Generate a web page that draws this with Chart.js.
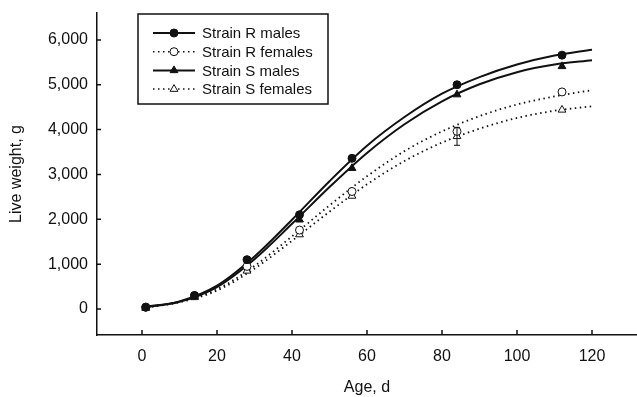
<!DOCTYPE html>
<html>
<head>
<meta charset="utf-8">
<script src="https://cdn.jsdelivr.net/npm/chart.js@4.4.1/dist/chart.umd.min.js"></script>
<style>
  html, body { margin: 0; padding: 0; background: #fff; }
  #wrap { width: 637px; height: 397px; }
</style>
</head>
<body>
<div id="wrap"><canvas id="growthChart"></canvas></div>
<script>
/* ---- DATA ---- */
const AGES = [1, 14, 28, 42, 56, 84, 112];
const R_MALES   = [40, 300, 1100, 2100, 3360, 5000, 5660];
const R_FEMALES = [40, 300, 950, 1760, 2620, 3960, 4840];
const S_MALES   = [30, 280, 990, 1990, 3140, 4780, 5410];
const S_FEMALES = [20, 260, 850, 1660, 2520, 3850, 4440];
const S_FEMALES_SE = [0, 0, 0, 0, 0, 200, 0];

const FIT_AGES = [0, 10, 20, 30, 40, 50, 60, 70, 80, 90, 100, 110, 120];
const R_MALES_FIT   = [40, 170, 520, 1170, 1990, 2850, 3640, 4280, 4800, 5170, 5450, 5650, 5780];
const S_MALES_FIT   = [30, 160, 490, 1110, 1900, 2720, 3480, 4120, 4630, 5010, 5280, 5450, 5545];
const R_FEMALES_FIT = [30, 160, 440, 960, 1620, 2310, 2960, 3520, 3960, 4300, 4560, 4740, 4880];
const S_FEMALES_FIT = [20, 150, 410, 900, 1520, 2170, 2780, 3300, 3710, 4020, 4260, 4420, 4520];

const X_TICKS = [0, 20, 40, 60, 80, 100, 120];
const Y_TICKS = [0, 1000, 2000, 3000, 4000, 5000, 6000];

const INK = '#111';
const FONT = "'Liberation Sans', Arial, sans-serif";

/* ---- HELPERS ---- */
const pts = (xs, ys) => xs.map((x, i) => ({ x: x, y: ys[i] }));

const SERIES = [
  { label: 'Strain R males',   pts: R_MALES,   fit: R_MALES_FIT,   style: 'circle',   fill: INK,    dash: [] },
  { label: 'Strain R females', pts: R_FEMALES, fit: R_FEMALES_FIT, style: 'circle',   fill: '#fff', dash: [1.5, 3.5] },
  { label: 'Strain S males',   pts: S_MALES,   fit: S_MALES_FIT,   style: 'triangle', fill: INK,    dash: [] },
  { label: 'Strain S females', pts: S_FEMALES, fit: S_FEMALES_FIT, style: 'triangle', fill: '#fff', dash: [1.5, 3.5] },
];

const datasets = [];
SERIES.forEach(s => {
  datasets.push({
    label: s.label + ' fit',
    data: pts(FIT_AGES, s.fit),
    borderColor: INK,
    borderWidth: s.dash.length ? 1.8 : 2,
    borderDash: s.dash,
    pointRadius: 0,
    cubicInterpolationMode: 'monotone',
    fill: false,
    order: 2
  });
  datasets.push({
    label: s.label,
    data: pts(AGES, s.pts),
    showLine: false,
    pointStyle: s.style,
    pointRadius: s.style === 'triangle' ? 4.5 : 4,
    pointBackgroundColor: s.fill,
    pointBorderColor: INK,
    pointBorderWidth: 1,
    order: 1
  });
});

/* ---- PLUGINS ---- */
const inwardTicks = {
  id: 'inwardTicks',
  afterDraw(chart) {
    const { ctx, chartArea, scales: { x, y } } = chart;
    ctx.save();
    ctx.strokeStyle = INK;
    ctx.lineWidth = 1.5;
    ctx.beginPath();
    X_TICKS.forEach(v => {
      const px = x.getPixelForValue(v);
      ctx.moveTo(px, chartArea.bottom);
      ctx.lineTo(px, chartArea.bottom - 5);
    });
    Y_TICKS.forEach(v => {
      const py = y.getPixelForValue(v);
      ctx.moveTo(chartArea.left, py);
      ctx.lineTo(chartArea.left + 4, py);
    });
    ctx.stroke();
    ctx.restore();
  }
};

const errorBars = {
  id: 'errorBars',
  afterDatasetsDraw(chart) {
    const { ctx, scales: { x, y } } = chart;
    ctx.save();
    ctx.strokeStyle = INK;
    ctx.lineWidth = 1;
    ctx.beginPath();
    AGES.forEach((a, i) => {
      const se = S_FEMALES_SE[i];
      if (!se) return;
      const px = x.getPixelForValue(a);
      const lo = y.getPixelForValue(S_FEMALES[i] - se);
      const hi = y.getPixelForValue(S_FEMALES[i] + se);
      ctx.moveTo(px, hi); ctx.lineTo(px, lo);
      ctx.moveTo(px - 3, lo); ctx.lineTo(px + 3, lo);
      ctx.moveTo(px - 3, hi); ctx.lineTo(px + 3, hi);
    });
    ctx.stroke();
    ctx.restore();
  }
};

const boxLegend = {
  id: 'boxLegend',
  afterDraw(chart) {
    const ctx = chart.ctx;
    const left = 138, top = 14, w = 190, h = 90;
    ctx.save();
    ctx.fillStyle = '#fff';
    ctx.fillRect(left, top, w, h);
    ctx.strokeStyle = INK;
    ctx.lineWidth = 1.5;
    ctx.strokeRect(left, top, w, h);

    SERIES.forEach((s, i) => {
      const cy = 33 + i * 18.7;
      ctx.strokeStyle = INK;
      ctx.lineWidth = s.dash.length ? 1.5 : 2;
      ctx.setLineDash(s.dash);
      ctx.beginPath();
      ctx.moveTo(153, cy);
      ctx.lineTo(195, cy);
      ctx.stroke();
      ctx.setLineDash([]);
      ctx.fillStyle = s.fill;
      ctx.lineWidth = 1;
      Chart.helpers.drawPoint(ctx, {
        pointStyle: s.style,
        radius: s.style === 'triangle' ? 4.5 : 4,
        rotation: 0,
        borderWidth: 1
      }, 174, cy);
      ctx.fillStyle = INK;
      ctx.font = '15px ' + FONT;
      ctx.textBaseline = 'middle';
      ctx.textAlign = 'left';
      ctx.fillText(s.label, 202, cy + 1);
    });
    ctx.restore();
  }
};

/* ---- CHART ---- */
new Chart(document.getElementById('growthChart'), {
  type: 'line',
  data: { datasets },
  plugins: [inwardTicks, errorBars, boxLegend],
  options: {
    responsive: true,
    maintainAspectRatio: false,
    animation: false,
    layout: { autoPadding: false, padding: { top: 13, right: 0, left: 0, bottom: 0 } },
    plugins: {
      legend: { display: false },
      tooltip: { enabled: false }
    },
    scales: {
      x: {
        type: 'linear',
        min: -12,
        max: 132,
        grid: { display: false, drawTicks: false },
        border: { display: true, color: INK, width: 1.5 },
        afterBuildTicks: s => { s.ticks = X_TICKS.map(v => ({ value: v })); },
        afterFit: s => { s.height = 62; s.paddingLeft = 0; s.paddingRight = 0; },
        ticks: { color: INK, padding: 12, maxRotation: 0, font: { size: 16, family: FONT } },
        title: { display: true, text: 'Age, d', color: INK, padding: { top: 4, bottom: 0 }, font: { size: 16, family: FONT } }
      },
      y: {
        min: -580,
        max: 6600,
        grid: { display: false, drawTicks: false },
        border: { display: true, color: INK, width: 1.5 },
        afterBuildTicks: s => { s.ticks = Y_TICKS.map(v => ({ value: v })); },
        afterFit: s => { s.width = 97; s.paddingTop = 0; s.paddingBottom = 0; },
        ticks: {
          color: INK,
          padding: 9,
          font: { size: 16, family: FONT },
          callback: v => v.toLocaleString('en-US')
        },
        title: { display: true, text: 'Live weight, g', color: INK, padding: { top: 7, bottom: 0 }, font: { size: 16, family: FONT } }
      }
    }
  }
});
</script>
</body>
</html>
